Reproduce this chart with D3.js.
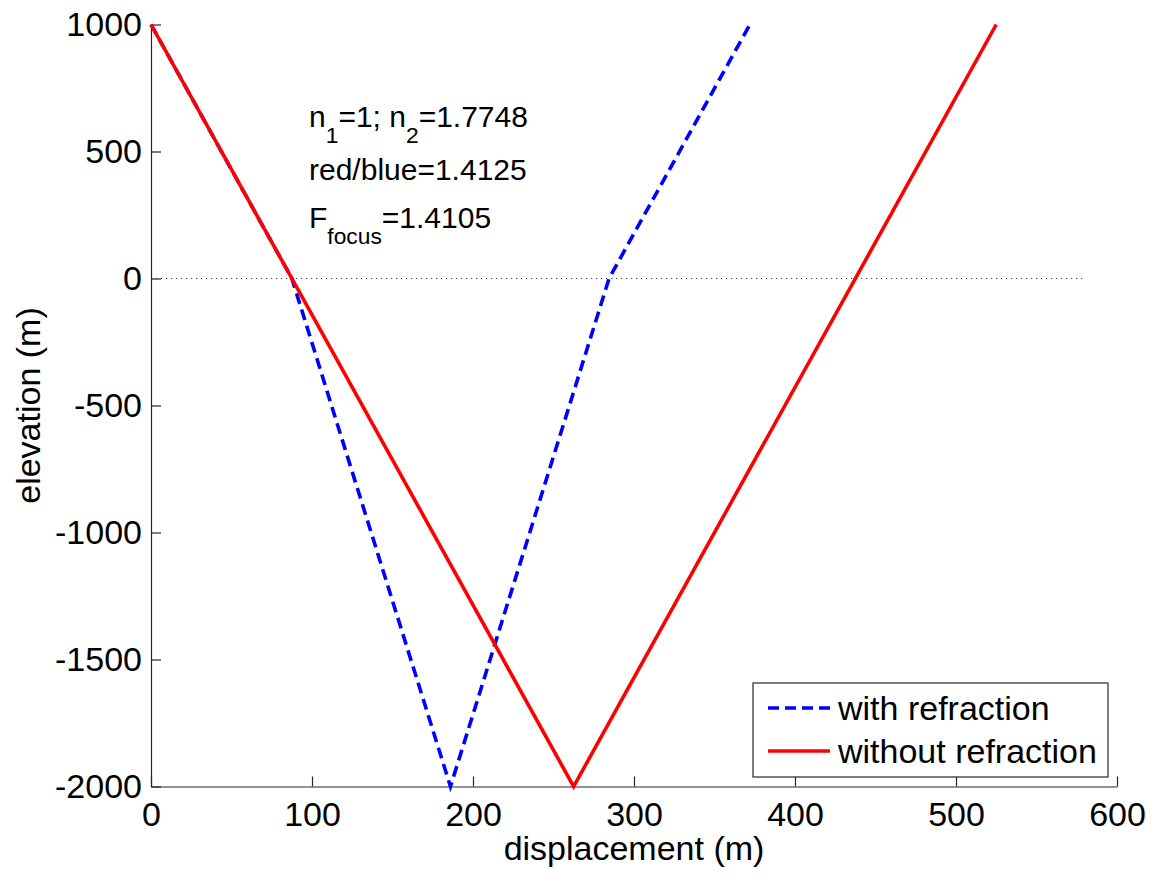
<!DOCTYPE html>
<html>
<head>
<meta charset="utf-8">
<script src="https://cdn.jsdelivr.net/npm/d3@7"></script>
<style>
  html, body { margin: 0; padding: 0; background: #fff; }
  svg { display: block; font-family: Arial, "Liberation Sans", sans-serif; }
</style>
</head>
<body>
<svg id="chart" width="1154" height="876"></svg>
<script>
// ---- data ----
const withRefractionX = [0, 87.5, 186, 284.5, 372];
const withRefractionY = [1000, 0, -2000, 0, 1000];
const withoutRefractionX = [0, 262.5, 525];
const withoutRefractionY = [1000, -2000, 1000];
const interfaceX = [0, 579];
const interfaceY = [0, 0];
const xTicks = [0, 100, 200, 300, 400, 500, 600];
const yTicks = [1000, 500, 0, -500, -1000, -1500, -2000];
const seriesNames = ["with refraction", "without refraction"];
const annotationLines = [
  [["n", ""], ["1", "sub"], ["=1; n", ""], ["2", "sub"], ["=1.7748", ""]],
  [["red/blue=1.4125", ""]],
  [["F", ""], ["focus", "sub"], ["=1.4105", ""]]
];

(function () {
  const svg = d3.select("#chart");
  const mLeft = 151, mRight = 1117, mTop = 24.5, mBottom = 786.5;
  const x = d3.scaleLinear().domain([0, 600]).range([mLeft, mRight]);
  const y = d3.scaleLinear().domain([-2000, 1000]).range([mBottom, mTop]);

  const axisColor = "#262626";
  const tickFont = 34;
  const fontFam = "Arial, 'Liberation Sans', sans-serif";
  const fmt = d => String(d);

  // zero line (dotted)
  svg.append("path")
    .datum(d3.zip(interfaceX, interfaceY))
    .attr("d", d3.line().x(d => x(d[0])).y(d => y(d[1])))
    .attr("fill", "none")
    .attr("stroke", "#444")
    .attr("stroke-width", 1)
    .attr("stroke-dasharray", "1.2,3.8");

  // x axis
  const xAxis = svg.append("g").attr("transform", `translate(0,${mBottom})`)
    .call(d3.axisBottom(x).tickValues(xTicks).tickSizeInner(-10).tickSizeOuter(0).tickPadding(15).tickFormat(fmt));
  xAxis.select(".domain").attr("stroke", axisColor).attr("stroke-width", 1.2);
  xAxis.selectAll(".tick line").attr("stroke", axisColor).attr("stroke-width", 1.2);
  xAxis.selectAll(".tick text").attr("font-size", tickFont).attr("fill", "#000").attr("font-family", fontFam);

  // y axis
  const yAxis = svg.append("g").attr("transform", `translate(${mLeft},0)`)
    .call(d3.axisLeft(y).tickValues(yTicks).tickSizeInner(-10).tickSizeOuter(0).tickPadding(9).tickFormat(fmt));
  yAxis.select(".domain").attr("stroke", axisColor).attr("stroke-width", 1.2);
  yAxis.selectAll(".tick line").attr("stroke", axisColor).attr("stroke-width", 1.2);
  yAxis.selectAll(".tick text").attr("font-size", tickFont).attr("fill", "#000").attr("font-family", fontFam);

  // lines
  const line = d3.line().x(d => x(d[0])).y(d => y(d[1]));
  svg.append("path")
    .datum(d3.zip(withRefractionX, withRefractionY))
    .attr("d", line)
    .attr("fill", "none")
    .attr("stroke", "#0000ff")
    .attr("stroke-width", 3.6)
    .attr("stroke-dasharray", "11,6");
  svg.append("path")
    .datum(d3.zip(withoutRefractionX, withoutRefractionY))
    .attr("d", line)
    .attr("fill", "none")
    .attr("stroke", "#ff0000")
    .attr("stroke-width", 3.6);

  // axis labels
  svg.append("text")
    .attr("x", (mLeft + mRight) / 2).attr("y", 860)
    .attr("text-anchor", "middle")
    .attr("font-size", 34)
    .text("displacement (m)");
  svg.append("text")
    .attr("transform", `translate(40,${(mTop + mBottom) / 2}) rotate(-90)`)
    .attr("text-anchor", "middle")
    .attr("font-size", 34)
    .text("elevation (m)");

  // annotation
  const annFont = 30;
  const annBaselines = [127, 180, 228];
  const subShift = 16;
  annotationLines.forEach((parts, i) => {
    const t = svg.append("text")
      .attr("x", 309).attr("y", annBaselines[i])
      .attr("font-size", annFont);
    let shifted = false;
    parts.forEach(([s, kind]) => {
      const ts = t.append("tspan").text(s);
      if (kind === "sub") {
        ts.attr("font-size", annFont * 0.76).attr("dy", shifted ? 0 : subShift);
        shifted = true;
      } else {
        ts.attr("dy", shifted ? -subShift : 0);
        shifted = false;
      }
    });
  });

  // legend
  const lg = svg.append("g");
  lg.append("rect")
    .attr("x", 753).attr("y", 683).attr("width", 355).attr("height", 94)
    .attr("fill", "#fff").attr("stroke", axisColor).attr("stroke-width", 1.2);
  const legendStyles = [
    { color: "#0000ff", dash: "11,6", y: 708 },
    { color: "#ff0000", dash: null, y: 751 }
  ];
  seriesNames.forEach((name, i) => {
    const s = legendStyles[i];
    const l = lg.append("line")
      .attr("x1", 768).attr("x2", 830)
      .attr("y1", s.y).attr("y2", s.y)
      .attr("stroke", s.color).attr("stroke-width", 3.6);
    if (s.dash) l.attr("stroke-dasharray", s.dash);
    lg.append("text")
      .attr("x", 838).attr("y", s.y + 12)
      .attr("font-size", 34)
      .text(name);
  });
})();
</script>
</body>
</html>
